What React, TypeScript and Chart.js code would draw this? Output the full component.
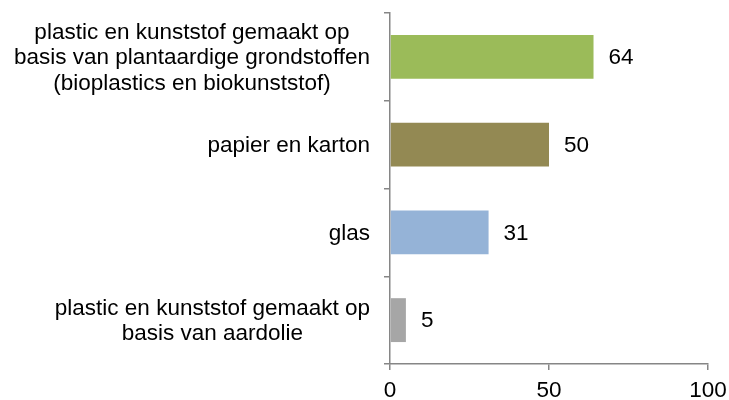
import React, { useEffect, useRef } from "react";
import { Chart, registerables } from "chart.js";

Chart.register(...registerables);

const categories: string[][] = [
  ["plastic en kunststof gemaakt op", "basis van plantaardige grondstoffen", "(bioplastics en biokunststof)"],
  ["papier en karton"],
  ["glas"],
  ["plastic en kunststof gemaakt op", "basis van aardolie"],
];
const values: number[] = [64, 50, 31, 5];
const barColors: string[] = ["#9BBB59", "#938953", "#95B3D7", "#A6A6A6"];
const xTicks: number[] = [0, 50, 100];

const FONT = "'Liberation Sans', Arial, Helvetica, sans-serif";
const FS = 22.5;
const LINE_H = 25.5;

const valueLabels = {
  id: "valueLabels",
  afterDatasetsDraw(chart: any) {
    const ctx = chart.ctx;
    const meta = chart.getDatasetMeta(0);
    ctx.save();
    ctx.font = `${FS}px ${FONT}`;
    ctx.fillStyle = "#000";
    ctx.textAlign = "left";
    ctx.textBaseline = "middle";
    meta.data.forEach((bar: any, i: number) => {
      ctx.fillText(String(values[i]), bar.x + 15, bar.y + 1);
    });
    ctx.restore();
  },
};

const categoryLabels = {
  id: "categoryLabels",
  afterDraw(chart: any) {
    const ctx = chart.ctx;
    const yScale = chart.scales.y;
    const rightEdge = chart.chartArea.left - 20;
    ctx.save();
    ctx.font = `${FS}px ${FONT}`;
    ctx.fillStyle = "#000";
    ctx.textAlign = "center";
    ctx.textBaseline = "middle";
    categories.forEach((lines, i) => {
      const maxW = Math.max(...lines.map((l) => ctx.measureText(l).width));
      const cx = rightEdge - maxW / 2;
      const cy = yScale.getPixelForValue(i);
      lines.forEach((l, j) => {
        ctx.fillText(l, cx, cy + (j - (lines.length - 1) / 2) * LINE_H + 1);
      });
    });
    ctx.restore();
  },
};

export default function App() {
  const ref = useRef<HTMLCanvasElement>(null);
  useEffect(() => {
    if (!ref.current) return;
    const chart = new Chart(ref.current, {
      type: "bar",
      data: {
        labels: categories,
        datasets: [
          {
            data: values,
            backgroundColor: barColors,
            barPercentage: 0.5,
            categoryPercentage: 1,
          },
        ],
      },
      options: {
        indexAxis: "y",
        animation: false,
        responsive: false,
        maintainAspectRatio: false,
        layout: { padding: { top: 13, right: 21, left: 0, bottom: 0 } },
        plugins: { legend: { display: false }, tooltip: { enabled: false } },
        scales: {
          x: {
            min: 0,
            max: 100,
            afterBuildTicks: (axis: any) => {
              axis.ticks = xTicks.map((v) => ({ value: v }));
            },
            border: { display: true, color: "#868686", width: 1.5 },
            grid: { display: true, drawOnChartArea: false, drawTicks: true, tickLength: 6, color: "#868686", lineWidth: 1.5 },
            ticks: { color: "#000", font: { family: FONT, size: FS }, padding: 7, maxRotation: 0 },
            afterFit: (axis: any) => {
              axis.height = 36;
              axis.paddingLeft = 0;
              axis.paddingRight = 0;
            },
          },
          y: {
            border: { display: true, color: "#868686", width: 1.5 },
            grid: { display: true, drawOnChartArea: false, drawTicks: true, tickLength: 6, color: "#868686", lineWidth: 1.5, offset: true },
            ticks: { display: false },
            afterFit: (axis: any) => {
              axis.width = 390;
              axis.paddingTop = 0;
              axis.paddingBottom = 0;
            },
          },
        },
      },
      plugins: [valueLabels, categoryLabels],
    });
    return () => chart.destroy();
  }, []);
  return (
    <div style={{ position: "absolute", left: 0, top: 0, width: 729, height: 400, background: "#fff" }}>
      <canvas ref={ref} width={729} height={400} />
    </div>
  );
}
